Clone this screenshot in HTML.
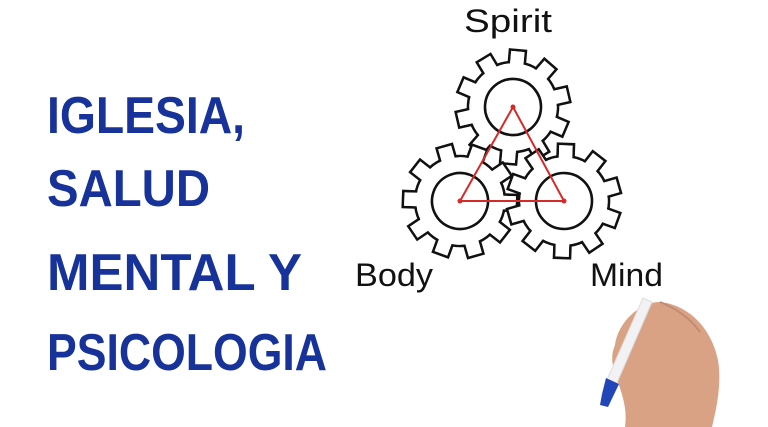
<!DOCTYPE html>
<html><head><meta charset="utf-8"><style>
html,body{margin:0;padding:0;background:#fff;}
svg{display:block}
</style></head><body>
<svg width="768" height="427" viewBox="0 0 768 427" xmlns="http://www.w3.org/2000/svg" xmlns:xlink="http://www.w3.org/1999/xlink">
<defs>
<g id="gear">
 <g stroke="#111" stroke-width="2.6" fill="#fff">
  <circle r="45"/>
  <g id="tk"><rect x="-8" y="-57" width="16" height="20"/></g>
  <use xlink:href="#tk" transform="rotate(36)"/><use xlink:href="#tk" transform="rotate(72)"/>
  <use xlink:href="#tk" transform="rotate(108)"/><use xlink:href="#tk" transform="rotate(144)"/>
  <use xlink:href="#tk" transform="rotate(180)"/><use xlink:href="#tk" transform="rotate(216)"/>
  <use xlink:href="#tk" transform="rotate(252)"/><use xlink:href="#tk" transform="rotate(288)"/>
  <use xlink:href="#tk" transform="rotate(324)"/>
 </g>
 <g fill="#fff">
  <circle r="43.7"/>
  <g id="tw"><rect x="-6.7" y="-55.7" width="13.4" height="19"/></g>
  <use xlink:href="#tw" transform="rotate(36)"/><use xlink:href="#tw" transform="rotate(72)"/>
  <use xlink:href="#tw" transform="rotate(108)"/><use xlink:href="#tw" transform="rotate(144)"/>
  <use xlink:href="#tw" transform="rotate(180)"/><use xlink:href="#tw" transform="rotate(216)"/>
  <use xlink:href="#tw" transform="rotate(252)"/><use xlink:href="#tw" transform="rotate(288)"/>
  <use xlink:href="#tw" transform="rotate(324)"/>
 </g>
 <circle r="28" fill="none" stroke="#111" stroke-width="2.6"/>
</g>
</defs>
<rect width="768" height="427" fill="#fff"/>
<g font-family="'Liberation Sans',sans-serif" font-weight="bold" fill="#17339a" font-size="52">
<text x="47" y="133" textLength="198" lengthAdjust="spacingAndGlyphs">IGLESIA,</text>
<text x="47" y="206" textLength="163" lengthAdjust="spacingAndGlyphs">SALUD</text>
<text x="47" y="290" textLength="255" lengthAdjust="spacingAndGlyphs">MENTAL Y</text>
<text x="47" y="370" textLength="280" lengthAdjust="spacingAndGlyphs">PSICOLOGIA</text>
</g>
<use xlink:href="#gear" transform="translate(513,107) rotate(5)"/>
<use xlink:href="#gear" transform="translate(460,201) rotate(20)"/>
<use xlink:href="#gear" transform="translate(564,201) rotate(2)"/>
<polygon points="513,107 460,201 564,201" stroke="#d42a2a" stroke-width="2" fill="none"/>
<g fill="#d42a2a"><circle cx="513" cy="107" r="2.5"/><circle cx="460" cy="201" r="2.5"/><circle cx="564" cy="201" r="2.5"/></g>
<g font-family="'Liberation Sans',sans-serif" fill="#111" font-size="32">
<text x="464" y="32" textLength="88" lengthAdjust="spacingAndGlyphs">Spirit</text>
<text x="355" y="286" textLength="78" lengthAdjust="spacingAndGlyphs">Body</text>
<text x="590" y="286" textLength="73" lengthAdjust="spacingAndGlyphs">Mind</text>
</g>
<g>
<path d="M615,345 C618,322 640,302 660,302 C690,305 712,330 718,360 C722,385 716,410 712,427 L625,427 C628,405 620,390 614,370 C611,360 612,352 615,345 Z" fill="#d9a285"/>
<path d="M660,302 C675,308 690,318 700,332" stroke="#c08b70" stroke-width="2" fill="none"/>
<path d="M652,302 L616,385 L606,382 L643,298 Z" fill="#f2f2f4" stroke="#ddd" stroke-width="1"/>
<path d="M606,378 L619,384 L608,407 L600,405 L602,394 Z" fill="#2046b8"/>
</g>
</svg>
</body></html>
